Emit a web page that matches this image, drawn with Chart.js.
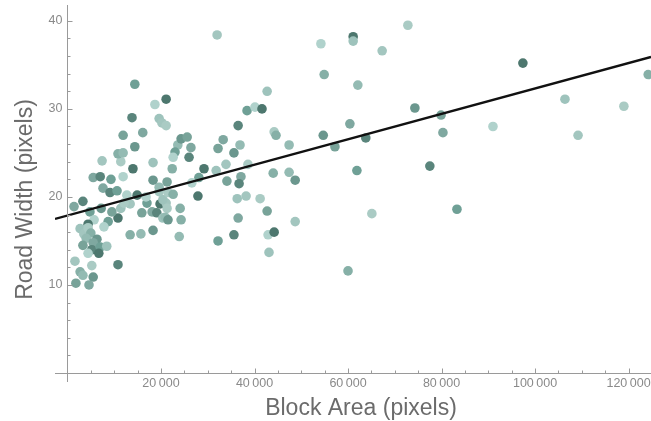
<!DOCTYPE html>
<html>
<head>
<meta charset="utf-8">
<title>Road Width vs Block Area</title>
<script src="https://cdn.jsdelivr.net/npm/chart.js@4.4.1/dist/chart.umd.min.js"></script>
<style>
  html, body { margin: 0; padding: 0; background: #ffffff; }
  #wrap { width: 651px; height: 421px; }
</style>
</head>
<body>
<div id="wrap"><canvas id="scatterChart" width="651" height="421"></canvas></div>
<script>
// Block area (pixels) of each sample
const blockArea = [
  1400, 3300, 4800, 5700, 4400, 2700, 3500, 4400, 5000, 4000, 6300, 3300,
  5500, 5200, 7000, 4400, 6700, 8400, 1600, 5200, 2700, 3300, 5500, 1800,
  4600, 10800, 8700, 7800, 10800, 11400, 13400, 12100, 13400, 15700, 18300,
  15900, 18100, 19100, 17000, 16800, 19800, 20400, 21100, 21300, 24300,
  23900, 7200, 9500, 7600, 9100, 10600, 12700, 14900, 20400, 19600, 21500,
  22600, 19600, 18300, 21300, 5500, 7000, 9300, 11900, 14000, 18300, 7400,
  11400, 10800, 11900, 14400, 11900, 16100, 13800, 14400, 18700, 21100,
  19600, 20200, 21100, 22400, 23600, 24300, 25600, 26400, 26000, 23000,
  22600, 29200, 31800, 33900, 38600, 44000, 47400, 48700, 34100, 37100,
  36700, 28100, 26600, 27900, 36300, 38200, 41200, 24100, 20900, 21500,
  42700, 36500, 35600, 32200, 42900, 44200, 43100, 48700, 65100, 60000,
  36900, 35600, 32200, 33300, 36500, 38400, 40100, 41600, 42700, 32000,
  44200, 44600, 47400, 54700, 57200, 60400, 63800, 61900, 54200, 61100,
  61100, 67300, 72800, 54900, 62100, 74300, 79900, 80300, 77500, 83300,
  91000, 97400, 106400, 109200, 119000, 124200
];

// Road width (pixels) of each sample
const roadWidth = [
  18.9, 19.5, 18.3, 17.4, 16.9, 16.4, 15.8, 16.5, 15.9, 15.3, 15.2, 14.5,
  14.8, 14.0, 14.3, 13.6, 13.6, 14.4, 12.7, 12.2, 11.5, 11.1, 10.9, 10.2,
  10.0, 12.3, 17.2, 16.6, 17.6, 18.7, 19.2, 19.3, 15.7, 15.8, 16.2,
  18.2, 18.3, 18.2, 19.3, 20.0, 19.2, 17.6, 19.3, 18.7, 17.4,
  15.5, 18.7, 18.3, 21.0, 20.5, 20.7, 20.2, 20.2, 19.7, 20.6, 20.5,
  20.3, 21.1, 21.9, 21.7, 22.2, 22.3, 22.0, 22.3, 23.2, 23.9, 24.1,
  24.0, 24.9, 25.0, 25.7, 27.0, 27.3, 29.0, 32.8, 30.5, 31.1,
  28.9, 28.4, 28.1, 23.2, 25.9, 26.6, 26.8, 25.6, 24.5, 25.1,
  24.5, 23.2, 23.0, 23.7, 23.7, 22.7, 22.8, 21.9, 21.8, 22.3,
  21.5, 22.2, 21.6, 20.1, 19.8, 20.1, 19.8, 18.7, 17.7, 17.4,
  18.4, 17.6, 15.7, 15.0, 15.7, 16.0, 13.7, 17.2, 18.1, 11.6,
  25.9, 25.0, 25.5, 26.5, 28.1, 29.8, 30.2, 30.0, 32.0, 38.4,
  27.4, 27.0, 25.9, 27.0, 25.7, 28.3, 26.7, 23.0, 37.4, 38.2,
  37.7, 36.6, 39.5, 33.9, 32.7, 30.1, 29.3, 27.3, 23.5, 18.6,
  28.0, 35.2, 31.1, 27.0, 30.3, 33.9
];

// Least-squares fit: width = fitIntercept + fitSlope * area
const fitIntercept = 17.89;
const fitSlope = 0.0001443;

// Axis ranges and tick marks
const xRange = [-2670, 124800];
const yRange = [-1.02, 41.8];
const xMajorTicks = [20000, 40000, 60000, 80000, 100000, 120000];
const yMajorTicks = [10, 20, 30, 40];
const xMinorStep = 5000;
const yMinorStep = 2;

const pointShades = [
  "#7fa8a0", "#9ec3bc", "#6b978e", "#b0d2cc", "#86b0a7", "#5a857c",
  "#a3c6bf", "#78a399", "#4d776e", "#94bbb3", "#6fa096", "#aacbc4"
];

const axisColor = "#9a9a9a";
const fontFamily = '"Liberation Sans", Arial, Helvetica, sans-serif';

// Thin space grouping like "20 000"
function formatArea(v) {
  return String(v).replace(/\B(?=(\d{3})+(?!\d))/g, "\u2009");
}

// Axes drawn through the origin, with inward tick marks
const crossedAxes = {
  id: "crossedAxes",
  afterDraw(chart) {
    const ctx = chart.ctx;
    const xs = chart.scales.x;
    const ys = chart.scales.y;
    const area = chart.chartArea;
    const x0 = Math.round(xs.getPixelForValue(0)) + 0.5;
    const y0 = Math.round(ys.getPixelForValue(0)) + 0.5;

    ctx.save();
    ctx.strokeStyle = axisColor;
    ctx.lineWidth = 1;
    ctx.beginPath();
    ctx.moveTo(area.left, y0);
    ctx.lineTo(area.right, y0);
    ctx.moveTo(x0, area.top);
    ctx.lineTo(x0, area.bottom);

    // x ticks point up from the axis
    for (let v = xMinorStep; v <= xRange[1]; v += xMinorStep) {
      const px = Math.round(xs.getPixelForValue(v)) + 0.5;
      const len = xMajorTicks.includes(v) ? 5 : 3;
      ctx.moveTo(px, y0);
      ctx.lineTo(px, y0 - len);
    }
    // y ticks point right from the axis
    for (let v = yMinorStep; v <= yRange[1]; v += yMinorStep) {
      const py = Math.round(ys.getPixelForValue(v)) + 0.5;
      const len = yMajorTicks.includes(v) ? 5 : 3;
      ctx.moveTo(x0, py);
      ctx.lineTo(x0 + len, py);
    }
    ctx.stroke();

    // tick labels
    ctx.fillStyle = "#8a8a8a";
    ctx.font = "12.5px " + fontFamily;
    ctx.textAlign = "center";
    ctx.textBaseline = "top";
    xMajorTicks.forEach((v) => {
      ctx.fillText(formatArea(v), xs.getPixelForValue(v), y0 + 4);
    });
    ctx.textAlign = "right";
    ctx.textBaseline = "middle";
    yMajorTicks.forEach((v) => {
      ctx.fillText(String(v), x0 - 5, ys.getPixelForValue(v));
    });

    // axis titles
    ctx.fillStyle = "#6b6b6b";
    ctx.font = "23px " + fontFamily;
    ctx.textAlign = "center";
    ctx.textBaseline = "alphabetic";
    ctx.fillText("Block Area (pixels)", (area.left + area.right) / 2 + 8, 415);

    ctx.translate(32, (area.top + area.bottom) / 2 + 6);
    ctx.rotate(-Math.PI / 2);
    ctx.fillText("Road Width (pixels)", 0, 0);
    ctx.restore();
  },
};

document.addEventListener("DOMContentLoaded", function () {
  initializeScatterChart();
});

function initializeScatterChart() {
  const ctx = document.getElementById("scatterChart").getContext("2d");

  const points = blockArea.map((x, i) => ({ x: x, y: roadWidth[i] }));
  const fitLine = xRange.map((x) => ({ x: x, y: fitIntercept + fitSlope * x }));

  new Chart(ctx, {
    type: "scatter",
    data: {
      datasets: [
        {
          type: "line",
          label: "Fit",
          data: fitLine,
          borderColor: "#111111",
          borderWidth: 2.3,
          pointRadius: 0,
          fill: false,
          order: 0,
        },
        {
          label: "Blocks",
          data: points,
          backgroundColor: (c) => pointShades[(c.dataIndex * 5) % pointShades.length],
          borderWidth: 0,
          pointRadius: 4.8,
          order: 1,
        },
      ],
    },
    options: {
      responsive: false,
      animation: false,
      layout: {
        autoPadding: false,
        padding: { left: 55, right: 0, top: 5, bottom: 39 },
      },
      plugins: {
        legend: { display: false },
        tooltip: { enabled: false },
      },
      scales: {
        x: { type: "linear", min: xRange[0], max: xRange[1], display: false },
        y: { type: "linear", min: yRange[0], max: yRange[1], display: false },
      },
    },
    plugins: [crossedAxes],
  });
}
</script>
</body>
</html>
